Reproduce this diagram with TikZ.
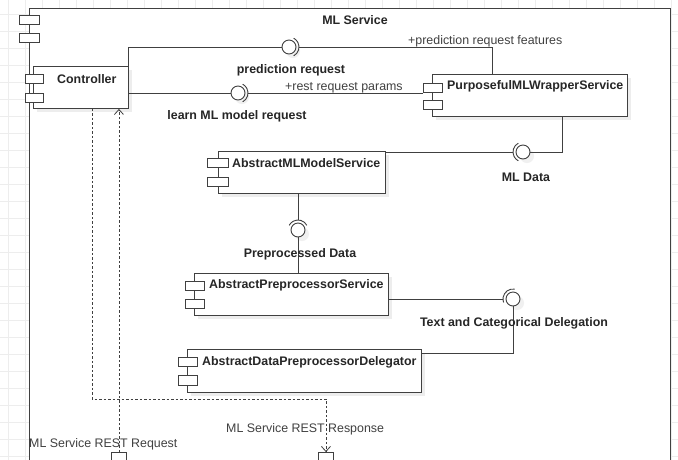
\documentclass[tikz,border=0pt]{standalone}
\usepackage{fontspec}
\setmainfont{Liberation Sans}
\usetikzlibrary{arrows.meta,calc}
\begin{document}
\begin{tikzpicture}[x=1pt,y=1pt,
  ln/.style={draw=black!75, line width=0.9pt},
  plainbox/.style={draw=black!75, line width=0.9pt, fill=white, anchor=north west, inner sep=0pt},
  box/.style={plainbox, preaction={draw=none, fill=black!7, transform canvas={xshift=4pt,yshift=-4pt}}},
  port/.style={draw=black!75, line width=0.9pt, fill=white, anchor=north west, inner sep=0pt, minimum width=19pt, minimum height=9pt},
  lbl/.style={font=\fontsize{12.4}{14}\selectfont\bfseries, text=black!85, inner sep=0pt},
  txt/.style={font=\fontsize{12.4}{14}\selectfont, text=black!75, inner sep=0pt},
  iface/.style={circle, draw=black!75, line width=0.9pt, fill=white, minimum size=14pt, inner sep=0pt,
    preaction={draw=none, fill=black!6, transform canvas={xshift=4pt,yshift=-4pt}}},
  dsh/.style={draw=black!75, line width=0.8pt, dash pattern=on 2.5pt off 2pt},
  tip/.style={-{Straight Barb[length=5pt,width=9pt]}}
]
\useasboundingbox (0,0) rectangle (678,-459);
\clip (0,0) rectangle (678,-459);
% background grid
\draw[black!7, line width=0.5pt, shift={(8pt,-14pt)}] (-17,-459) grid[step=17pt] (680,17);
% outer component
\node[plainbox, minimum width=641pt, minimum height=470pt] (svc) at (29,-8) {};
\node[port, minimum width=20pt] (svcp1) at (19,-15) {};
\node[port, minimum width=20pt] (svcp2) at (19,-33) {};
\node[lbl] (title) at (355,-20) {ML Service};

% components
\node[box, minimum width=95pt, minimum height=42pt] (ctrl) at (33,-66) {};
\node[port, minimum width=18pt] (ctrlp1) at (25,-74) {};
\node[port, minimum width=18pt] (ctrlp2) at (25,-93) {};
\node[lbl, anchor=west] (ctrlt) at (57,-79) {Controller};

\node[box, minimum width=195pt, minimum height=42pt] (pws) at (432,-74) {};
\node[port] (pwsp1) at (423,-83) {};
\node[port] (pwsp2) at (423,-100) {};
\node[lbl, anchor=west] (pwst) at (447,-86) {PurposefulMLWrapperService};

\node[box, minimum width=167pt, minimum height=42pt] (mlm) at (218,-151) {};
\node[port, minimum width=21pt] (mlmp1) at (207,-158) {};
\node[port, minimum width=21pt] (mlmp2) at (207,-177) {};
\node[lbl, anchor=west] (mlmt) at (232,-163) {AbstractMLModelService};

\node[box, minimum width=194pt, minimum height=42pt] (aps) at (194,-273) {};
\node[port] (apsp1) at (185,-281) {};
\node[port] (apsp2) at (185,-299) {};
\node[lbl, anchor=west] (apst) at (209,-285) {AbstractPreprocessorService};

\node[box, minimum width=234pt, minimum height=43pt] (adp) at (187,-349) {};
\node[port] (adpp1) at (178,-357) {};
\node[port, minimum height=10pt] (adpp2) at (178,-375) {};
\node[lbl, anchor=west] (adpt) at (202,-362) {AbstractDataPreprocessorDelegator};

% bottom ports of the service
\node[port, minimum width=15pt, minimum height=14pt] (bp1) at (111,-452) {};
\node[port, minimum width=15pt, minimum height=14pt] (bp2) at (318,-452) {};

% interfaces
\node[iface] (pred) at (289,-47) {};
\node[iface] (learn) at (238,-93) {};
\node[iface] (mld) at (523,-152) {};
\node[iface] (ppd) at (298,-230) {};
\node[iface] (tcd) at (513,-299) {};

% sockets
\draw[ln] ([shift={(-62:10)}]pred.center) arc[start angle=-62, end angle=62, radius=10];
\draw[ln] ([shift={(-62:10)}]learn.center) arc[start angle=-62, end angle=62, radius=10];
\draw[ln] ([shift={(118:10)}]mld.center) arc[start angle=118, end angle=242, radius=10];
\draw[ln] ([shift={(28:10)}]ppd.center) arc[start angle=28, end angle=152, radius=10];
\draw[ln] ([shift={(80:10)}]tcd.center) arc[start angle=80, end angle=200, radius=10];

% connectors
\coordinate (pwsA) at ($(pws.north west)+(60,0)$);
\coordinate (pwsB) at ($(pws.south west)+(130,0)$);
\coordinate (adpA) at ($(adp.north east)+(0,-4)$);
\draw[ln] (ctrl.north east) |- (pred.west);
\draw[ln] ([xshift=3pt]pred.east) -| (pwsA);
\draw[ln] (learn.west -| ctrl.east) -- (learn.west);
\draw[ln] ([xshift=3pt]learn.east) -- (learn.east -| pwsp1.west);
\draw[ln] (pwsB) |- (mld.east);
\draw[ln] ([xshift=-3pt]mld.west) -- (mld.west -| mlm.east);
\draw[ln] (mlm.south -| ppd) -- ([yshift=3pt]ppd.north);
\draw[ln] (ppd.south) -- (ppd.south |- aps.north);
\draw[ln] (aps.east |- tcd) -- ([xshift=-3pt]tcd.west);
\draw[ln] (tcd.south) |- (adpA);

% dashed REST flows
\coordinate (dA) at ($(ctrl.south west)+(59,0)$);
\coordinate (dB) at ($(dA)+(0,-290)$);
\draw[dsh, tip] (dA) -- (dB) -| (bp2.north);
\draw[dsh, tip] (bp1.north) -- (bp1.north |- ctrl.south);

% labels
\node[txt, anchor=west] (lpf) at (408,-41) {+prediction request features};
\node[lbl] (lpr) at (291,-70) {prediction request};
\node[txt, anchor=west] (lrp) at (285,-88) {+rest request params};
\node[lbl] (llm) at (237,-116) {learn ML model request};
\node[lbl] (lmd) at (526,-177) {ML Data};
\node[lbl] (lppd) at (300,-254) {Preprocessed Data};
\node[lbl] (ltcd) at (514,-323) {Text and Categorical Delegation};
\node[txt, anchor=west] (lreq) at (29,-444) {ML Service REST Request};
\node[txt, anchor=west] (lres) at (226,-429) {ML Service REST Response};
\end{tikzpicture}
\end{document}
